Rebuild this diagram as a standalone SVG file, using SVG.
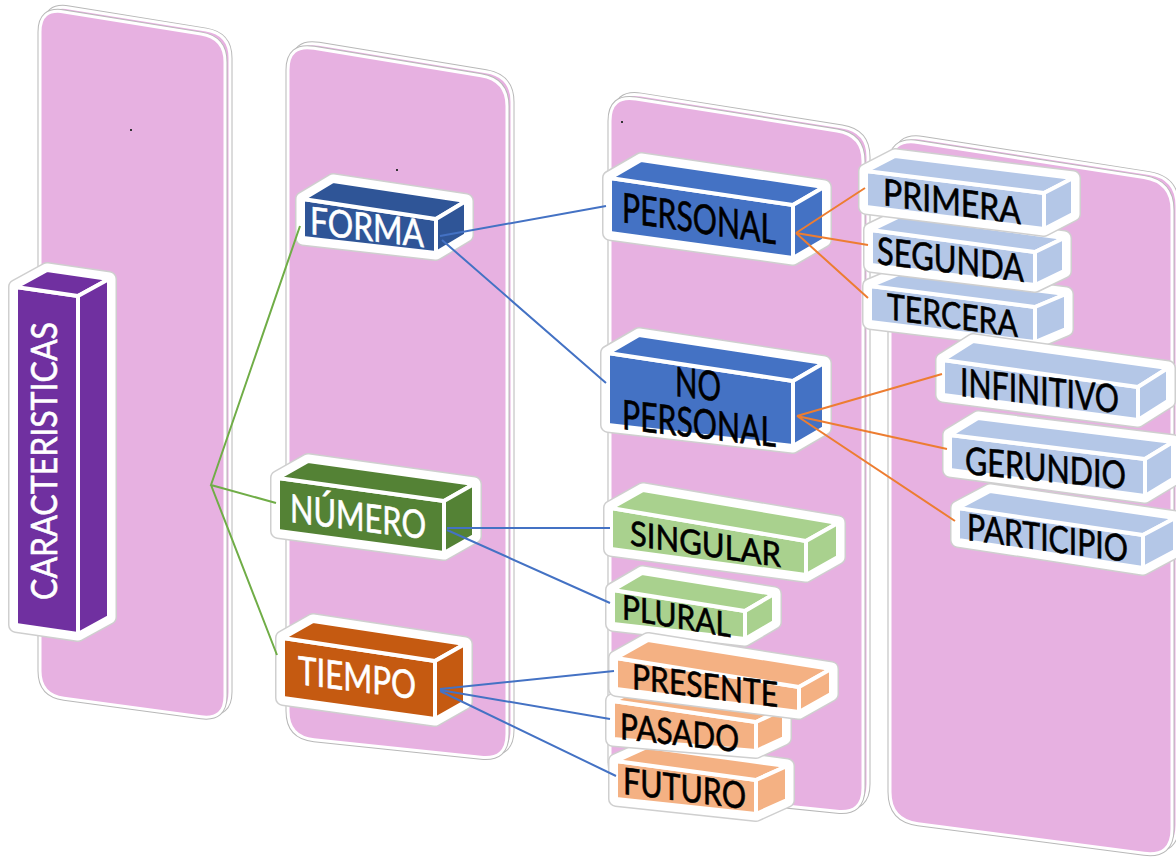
<svg xmlns="http://www.w3.org/2000/svg" width="1176" height="857" viewBox="0 0 1176 857">
<style>
.pf{fill:#E7B1E1;stroke:#fff;stroke-width:3}
.po{fill:none;stroke:#b8b8b8;stroke-width:5}
.ho{fill:none;stroke:#cfcfcf;stroke-width:16;stroke-linejoin:round}
.h{fill:#fff;stroke:#fff;stroke-width:13;stroke-linejoin:round}
.f{stroke:#fff;stroke-width:4;stroke-linejoin:round}
.pu{fill:#7030A0}.db{fill:#2F5597}.mb{fill:#4472C4}.lb{fill:#B4C7E7}
.dg{fill:#548235}.lg{fill:#A9D18E}.do{fill:#C55A11}.lo{fill:#F4B183}
.t{font-family:Lato,'Liberation Sans',sans-serif;stroke-width:0.6}
.w{fill:#fff;stroke:#fff}.k{fill:#000;stroke:#000}
.cg{stroke:#70AD47;stroke-width:2;fill:none}
.cb{stroke:#4472C4;stroke-width:2;fill:none}
.co{stroke:#ED7D31;stroke-width:2;fill:none}
</style>
<defs>
<path id="p1" d="M40,32 Q40,8 64,11.9 L201,34.1 Q225,38 225,62 L225,696 Q225,720 201,716.8 L64,698.2 Q40,695 40,671 Z"/>
<path id="p2" d="M288,70 Q288,44 314,48.3 L481,75.7 Q507,80 507,106 L507,734 Q507,760 481,757.3 L314,739.7 Q288,737 288,711 Z"/>
<path id="p3" d="M610,121 Q610,95 636,99.1 L837,130.9 Q863,135 863,161 L863,788 Q863,814 837,811.3 L636,790.7 Q610,788 610,762 Z"/>
<path id="p4" d="M890,166 Q890,138 918,142.4 L1144,177.6 Q1172,182 1172,210 L1172,829 Q1172,857 1144,853.3 L918,823.7 Q890,820 890,792 Z"/>
</defs>
<rect width="1176" height="857" fill="#fff"/>
<g id="panels">
<g id="panel1"><use href="#p1" class="po" transform="translate(5,-4)"/><use href="#p1" class="pf" transform="translate(5,-4)"/><use href="#p1" class="po"/><use href="#p1" class="pf"/><rect x="130" y="129" width="2" height="2" fill="#333"/></g>
<g id="panel2"><use href="#p2" class="po" transform="translate(5,-4)"/><use href="#p2" class="pf" transform="translate(5,-4)"/><use href="#p2" class="po"/><use href="#p2" class="pf"/><rect x="396" y="169" width="2" height="2" fill="#333"/></g>
<g id="panel3"><use href="#p3" class="po" transform="translate(5,-4)"/><use href="#p3" class="pf" transform="translate(5,-4)"/><use href="#p3" class="po"/><use href="#p3" class="pf"/><rect x="621" y="121" width="2" height="2" fill="#333"/></g>
<g id="panel4"><use href="#p4" class="po" transform="translate(5,-4)"/><use href="#p4" class="pf" transform="translate(5,-4)"/><use href="#p4" class="po"/><use href="#p4" class="pf"/></g>
</g>

<g id="caracteristicas">
<polygon class="ho" points="16,625 16,287 47,270 109,279 109,617 78,634"/>
<polygon class="h" points="16,625 16,287 47,270 109,279 109,617 78,634"/>
<polygon class="f pu" points="16,287 78,296 78,634 16,625"/>
<polygon class="f pu" points="16,287 47,270 109,279 78,296"/>
<polygon class="f pu" points="78,296 109,279 109,617 78,634"/>
<text class="t w" transform="translate(57,461) rotate(-90)" text-anchor="middle" font-size="36" textLength="278" lengthAdjust="spacingAndGlyphs">CARACTERISTICAS</text>
</g>

<g id="forma">
<polygon class="ho" points="303,238 303,199 333,181 466,201 466,235 436,253"/>
<polygon class="h" points="303,238 303,199 333,181 466,201 466,235 436,253"/>
<polygon class="f db" points="303,199 436,219 436,253 303,238"/>
<polygon class="f db" points="303,199 333,181 466,201 436,219"/>
<polygon class="f db" points="436,219 466,201 466,235 436,253"/>
<text class="t w" transform="matrix(1,0.115,0,1,310,234)" font-size="38" textLength="114" lengthAdjust="spacingAndGlyphs">FORMA</text>
</g>

<g id="numero">
<polygon class="ho" points="278,531 278,478 308,461 474,484 474,536 444,553"/>
<polygon class="h" points="278,531 278,478 308,461 474,484 474,536 444,553"/>
<polygon class="f dg" points="278,478 444,501 444,553 278,531"/>
<polygon class="f dg" points="278,478 308,461 474,484 444,501"/>
<polygon class="f dg" points="444,501 474,484 474,536 444,553"/>
<text class="t w" transform="matrix(1,0.126,0,1,290,522)" font-size="39" textLength="136" lengthAdjust="spacingAndGlyphs">NÚMERO</text>
</g>

<g id="tiempo">
<polygon class="ho" points="283,698 283,638 313,621 465,644 465,702 435,719"/>
<polygon class="h" points="283,698 283,638 313,621 465,644 465,702 435,719"/>
<polygon class="f do" points="283,638 435,661 435,719 283,698"/>
<polygon class="f do" points="283,638 313,621 465,644 435,661"/>
<polygon class="f do" points="435,661 465,644 465,702 435,719"/>
<text class="t w" transform="matrix(1,0.128,0,1,298,684)" font-size="39" textLength="118" lengthAdjust="spacingAndGlyphs">TIEMPO</text>
</g>

<g id="personal">
<polygon class="ho" points="610,233 610,178 641,160 824,187 824,240 793,258"/>
<polygon class="h" points="610,233 610,178 641,160 824,187 824,240 793,258"/>
<polygon class="f mb" points="610,178 793,205 793,258 610,233"/>
<polygon class="f mb" points="610,178 641,160 824,187 793,205"/>
<polygon class="f mb" points="793,205 824,187 824,240 793,258"/>
<text class="t k" transform="matrix(1,0.144,0,1,622,222)" font-size="41" textLength="154" lengthAdjust="spacingAndGlyphs">PERSONAL</text>
</g>

<g id="no-personal">
<polygon class="ho" points="608,425 608,353 639,335 824,363 824,428 793,446"/>
<polygon class="h" points="608,425 608,353 639,335 824,363 824,428 793,446"/>
<polygon class="f mb" points="608,353 793,381 793,446 608,425"/>
<polygon class="f mb" points="608,353 639,335 824,363 793,381"/>
<polygon class="f mb" points="793,381 824,363 824,428 793,446"/>
<text class="t k" transform="matrix(1,0.12,0,1,675,396)" font-size="41" textLength="46" lengthAdjust="spacingAndGlyphs">NO</text>
<text class="t k" transform="matrix(1,0.118,0,1,622,429)" font-size="41" textLength="154" lengthAdjust="spacingAndGlyphs">PERSONAL</text>
</g>

<g id="singular">
<polygon class="ho" points="611,549 611,508 643,490 838,523 838,557 806,575"/>
<polygon class="h" points="611,549 611,508 643,490 838,523 838,557 806,575"/>
<polygon class="f lg" points="611,508 806,541 806,575 611,549"/>
<polygon class="f lg" points="611,508 643,490 838,523 806,541"/>
<polygon class="f lg" points="806,541 838,523 838,557 806,575"/>
<text class="t k" transform="matrix(1,0.147,0,1,630,545)" font-size="34" textLength="151" lengthAdjust="spacingAndGlyphs">SINGULAR</text>
</g>

<g id="plural">
<polygon class="ho" points="613,624 613,590 642,573 774,594 774,622 745,639"/>
<polygon class="h" points="613,624 613,590 642,573 774,594 774,622 745,639"/>
<polygon class="f lg" points="613,590 745,611 745,639 613,624"/>
<polygon class="f lg" points="613,590 642,573 774,594 745,611"/>
<polygon class="f lg" points="745,611 774,594 774,622 745,639"/>
<text class="t k" transform="matrix(1,0.167,0,1,622,619)" font-size="34" textLength="109" lengthAdjust="spacingAndGlyphs">PLURAL</text>
</g>

<g id="futuro">
<polygon class="ho" points="616,799 616,761 647,747 787,766 787,800 756,814"/>
<polygon class="h" points="616,799 616,761 647,747 787,766 787,800 756,814"/>
<polygon class="f lo" points="616,761 756,780 756,814 616,799"/>
<polygon class="f lo" points="616,761 647,747 787,766 756,780"/>
<polygon class="f lo" points="756,780 787,766 787,800 756,814"/>
<text class="t k" transform="matrix(1,0.123,0,1,623,794)" font-size="37" textLength="123" lengthAdjust="spacingAndGlyphs">FUTURO</text>
</g>

<g id="pasado">
<polygon class="ho" points="613,739 613,701 641,688 784,709 784,738 756,751"/>
<polygon class="h" points="613,739 613,701 641,688 784,709 784,738 756,751"/>
<polygon class="f lo" points="613,701 756,722 756,751 613,739"/>
<polygon class="f lo" points="613,701 641,688 784,709 756,722"/>
<polygon class="f lo" points="756,722 784,709 784,738 756,751"/>
<text class="t k" transform="matrix(1,0.11,0,1,620,739)" font-size="36" textLength="119" lengthAdjust="spacingAndGlyphs">PASADO</text>
</g>

<g id="presente">
<polygon class="ho" points="616,689 616,658 648,640 831,669 831,694 799,712"/>
<polygon class="h" points="616,689 616,658 648,640 831,669 831,694 799,712"/>
<polygon class="f lo" points="616,658 799,687 799,712 616,689"/>
<polygon class="f lo" points="616,658 648,640 831,669 799,687"/>
<polygon class="f lo" points="799,687 831,669 831,694 799,712"/>
<text class="t k" transform="matrix(1,0.124,0,1,632,689)" font-size="35" textLength="146" lengthAdjust="spacingAndGlyphs">PRESENTE</text>
</g>

<g id="tercera">
<polygon class="ho" points="870,322 870,286 901,273 1066,294 1066,329 1035,342"/>
<polygon class="h" points="870,322 870,286 901,273 1066,294 1066,329 1035,342"/>
<polygon class="f lb" points="870,286 1035,307 1035,342 870,322"/>
<polygon class="f lb" points="870,286 901,273 1066,294 1035,307"/>
<polygon class="f lb" points="1035,307 1066,294 1066,329 1035,342"/>
<text class="t k" transform="matrix(1,0.138,0,1,887,319)" font-size="36" textLength="131" lengthAdjust="spacingAndGlyphs">TERCERA</text>
</g>

<g id="segunda">
<polygon class="ho" points="871,265 871,230 900,216 1064,238 1064,271 1035,285"/>
<polygon class="h" points="871,265 871,230 900,216 1064,238 1064,271 1035,285"/>
<polygon class="f lb" points="871,230 1035,252 1035,285 871,265"/>
<polygon class="f lb" points="871,230 900,216 1064,238 1035,252"/>
<polygon class="f lb" points="1035,252 1064,238 1064,271 1035,285"/>
<text class="t k" transform="matrix(1,0.123,0,1,877,264)" font-size="38" textLength="147" lengthAdjust="spacingAndGlyphs">SEGUNDA</text>
</g>

<g id="primera">
<polygon class="ho" points="866,207 866,171 895,156 1073,178 1073,214 1044,229"/>
<polygon class="h" points="866,207 866,171 895,156 1073,178 1073,214 1044,229"/>
<polygon class="f lb" points="866,171 1044,193 1044,229 866,207"/>
<polygon class="f lb" points="866,171 895,156 1073,178 1044,193"/>
<polygon class="f lb" points="1044,193 1073,178 1073,214 1044,229"/>
<text class="t k" transform="matrix(1,0.139,0,1,883,205)" font-size="37" textLength="138" lengthAdjust="spacingAndGlyphs">PRIMERA</text>
</g>

<g id="participio">
<polygon class="ho" points="958,540 958,508 990,491 1175,518 1175,551 1143,568"/>
<polygon class="h" points="958,540 958,508 990,491 1175,518 1175,551 1143,568"/>
<polygon class="f lb" points="958,508 1143,535 1143,568 958,540"/>
<polygon class="f lb" points="958,508 990,491 1175,518 1143,535"/>
<polygon class="f lb" points="1143,535 1175,518 1175,551 1143,568"/>
<text class="t k" transform="matrix(1,0.137,0,1,967,540)" font-size="37" textLength="161" lengthAdjust="spacingAndGlyphs">PARTICIPIO</text>
</g>

<g id="gerundio">
<polygon class="ho" points="950,470 950,435 978,418 1173,442 1173,479 1145,496"/>
<polygon class="h" points="950,470 950,435 978,418 1173,442 1173,479 1145,496"/>
<polygon class="f lb" points="950,435 1145,459 1145,496 950,470"/>
<polygon class="f lb" points="950,435 978,418 1173,442 1145,459"/>
<polygon class="f lb" points="1145,459 1173,442 1173,479 1145,496"/>
<text class="t k" transform="matrix(1,0.094,0,1,965,474)" font-size="38" textLength="161" lengthAdjust="spacingAndGlyphs">GERUNDIO</text>
</g>

<g id="infinitivo">
<polygon class="ho" points="943,395 943,360 973,341 1168,368 1168,401 1138,420"/>
<polygon class="h" points="943,395 943,360 973,341 1168,368 1168,401 1138,420"/>
<polygon class="f lb" points="943,360 1138,387 1138,420 943,395"/>
<polygon class="f lb" points="943,360 973,341 1168,368 1138,387"/>
<polygon class="f lb" points="1138,387 1168,368 1168,401 1138,420"/>
<text class="t k" transform="matrix(1,0.108,0,1,960,396)" font-size="39" textLength="159" lengthAdjust="spacingAndGlyphs">INFINITIVO</text>
</g>

<g id="connectors">
<path class="cg" d="M300,226 L211,485 L276,503 M211,485 L277,655"/>
<path class="cb" d="M440,236 L606,206 M442,240 L606,383 M447,528 L610,528 M447,530 L610,603 M440,689 L614,671 M440,690 L610,719 M440,691 L616,776"/>
<path class="co" d="M796,233 L865,188 M796,233 L868,245 M796,233 L868,298 M797,416 L942,374 M797,416 L947,449 M797,416 L955,521"/>
</g>
</svg>
